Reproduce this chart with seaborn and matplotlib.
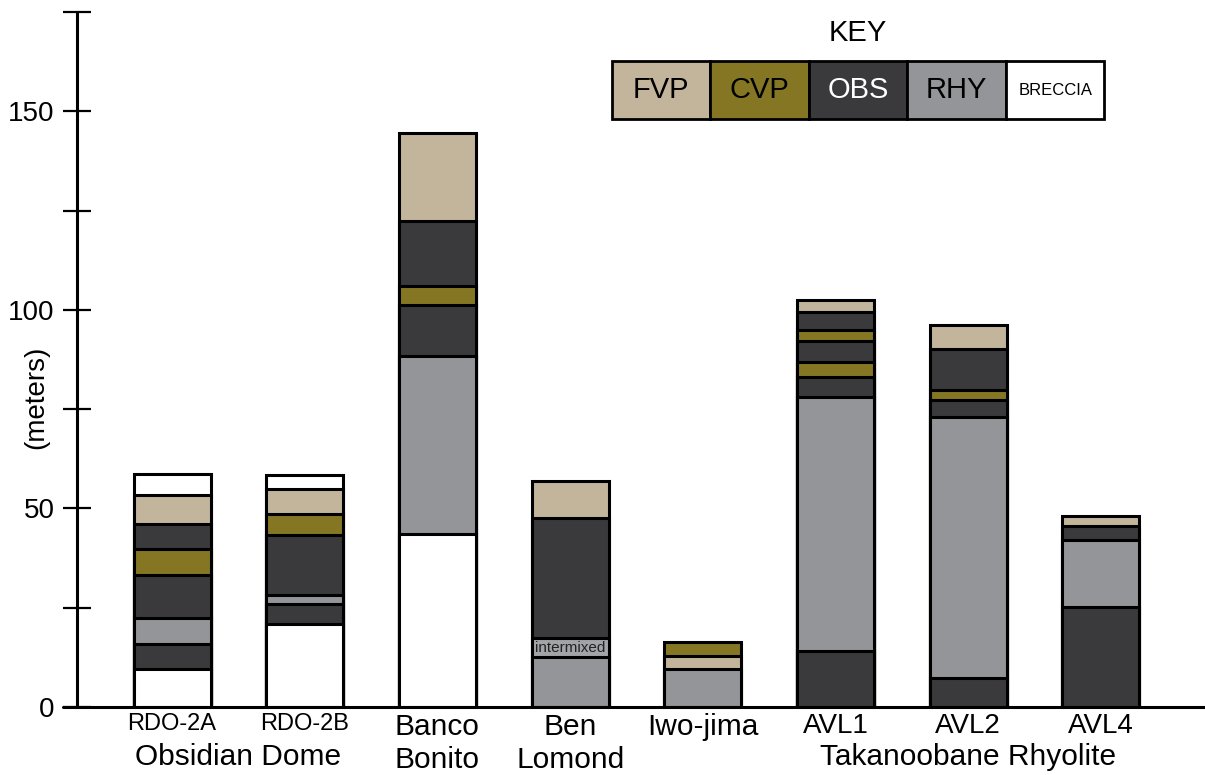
import pandas as pd
import matplotlib.pyplot as plt
import matplotlib.patches as mpatches
import seaborn as sns

# bars along the x axis (first line of the tick label)
categories = ["RDO-2A", "RDO-2B", "Banco\nBonito", "Ben\nLomond", "Iwo-jima", "AVL1", "AVL2", "AVL4"]

# units of each column, bottom to top, and their thickness in meters
rdo2a_units = ["BRECCIA", "OBS", "RHY", "OBS", "CVP", "OBS", "FVP", "BRECCIA"]
rdo2a_m = [9.5, 6.3, 6.7, 10.8, 6.4, 6.5, 7.2, 5.3]
rdo2b_units = ["BRECCIA", "OBS", "RHY", "OBS", "CVP", "FVP", "BRECCIA"]
rdo2b_m = [20.9, 5.0, 2.4, 14.9, 5.3, 6.3, 3.7]
banco_units = ["BRECCIA", "RHY", "OBS", "CVP", "OBS", "FVP"]
banco_m = [43.6, 44.7, 13.0, 4.6, 16.5, 22.2]
ben_units = ["RHY", "MIX", "OBS", "FVP"]
ben_m = [12.6, 4.7, 30.4, 9.3]
iwo_units = ["RHY", "FVP", "CVP"]
iwo_m = [9.5, 3.3, 3.6]
avl1_units = ["OBS", "RHY", "OBS", "CVP", "OBS", "CVP", "OBS", "FVP"]
avl1_m = [14.0, 64.1, 5.1, 3.8, 5.2, 2.7, 4.6, 3.0]
avl2_units = ["OBS", "RHY", "OBS", "CVP", "OBS", "FVP"]
avl2_m = [7.4, 65.7, 4.3, 2.4, 10.3, 6.2]
avl4_units = ["OBS", "RHY", "OBS", "FVP"]
avl4_m = [25.2, 16.9, 3.6, 2.3]

key_units = ["FVP", "CVP", "OBS", "RHY", "BRECCIA"]
unit_colors = {"FVP": "#c2b59b", "CVP": "#857623", "OBS": "#3a3a3c",
               "RHY": "#939598", "BRECCIA": "#ffffff", "MIX": "#a2a4a7"}

columns = [(rdo2a_units, rdo2a_m), (rdo2b_units, rdo2b_m), (banco_units, banco_m),
           (ben_units, ben_m), (iwo_units, iwo_m), (avl1_units, avl1_m),
           (avl2_units, avl2_m), (avl4_units, avl4_m)]

# long table: one row per layer, with the cumulative top of that layer
rows = []
for cat, (units, thick) in zip(categories, columns):
    top = 0
    for j, (u, t) in enumerate(zip(units, thick)):
        top += t
        rows.append([cat, j, u, top - t, top])
df = pd.DataFrame(rows, columns=["cat", "layer", "unit", "bottom", "top"])

sns.set_style("white")
plt.rcParams['font.family'] = ['Liberation Sans', 'DejaVu Sans']
plt.rcParams['text.color'] = 'black'
plt.rcParams['xtick.color'] = 'black'
plt.rcParams['ytick.color'] = 'black'
plt.rcParams['axes.labelcolor'] = 'black'
plt.rcParams['axes.edgecolor'] = 'black'

fig = plt.figure(figsize=(12.05, 7.75), dpi=100)
ax = fig.add_axes([0.0639, 0.0877, 0.9361, 0.8968])

# draw tallest layers first, lower layers painted over them
for j in sorted(df["layer"].unique(), reverse=True):
    sub = df[df["layer"] == j]
    pal = {c: unit_colors[u] for c, u in zip(sub["cat"], sub["unit"])}
    sns.barplot(data=sub, x="cat", y="top", hue="cat", order=categories,
                palette=pal, width=0.58, edgecolor="black", linewidth=2.2,
                saturation=1, legend=False, ax=ax)

# "intermixed" label on Ben Lomond
mix = df[df["unit"] == "MIX"].iloc[0]
ax.text(categories.index(mix["cat"]), (mix["bottom"] + mix["top"]) / 2, "intermixed",
        ha="center", va="center", fontsize=11, color="#222222")

ax.set_xlim(-0.716, 7.784)
ax.set_ylim(0, 175)
ax.set_yticks([0, 50, 100, 150])
ax.set_yticks([25, 75, 125, 175], minor=True)
ax.tick_params(axis="y", which="both", direction="inout", length=20, width=1.6,
               labelsize=20, pad=6, left=True)
ax.tick_params(axis="x", length=0, pad=4)
ax.set_xlabel("")
ax.set_ylabel("(meters)", fontsize=20)
ax.yaxis.set_label_coords(-0.025, 0.445)

sizes = [17, 17, 21.5, 21.5, 21.5, 20, 20, 20]
for lbl, s in zip(ax.get_xticklabels(), sizes):
    lbl.set_fontsize(s)
    lbl.set_linespacing(1.25)

for side in ["top", "right", "bottom"]:
    ax.spines[side].set_visible(False)
ax.spines["left"].set_linewidth(2.2)
ax.axhline(0, xmin=-14 / 1128, xmax=1, color="black", lw=2.2, clip_on=False, zorder=5)

# group names on the second line
ax.text(0.5, -0.052, "Obsidian Dome", transform=ax.get_xaxis_transform(),
        ha="center", va="top", fontsize=21.5)
ax.text(6, -0.052, "Takanoobane Rhyolite", transform=ax.get_xaxis_transform(),
        ha="center", va="top", fontsize=21.5)

# key box
kx0, kw, ky0, kh = 0.4743, 0.0873, 0.846, 0.0835
for i, u in enumerate(key_units):
    ax.add_patch(mpatches.Rectangle((kx0 + i * kw, ky0), kw, kh, transform=ax.transAxes,
                                    facecolor=unit_colors[u], edgecolor="black",
                                    linewidth=2, clip_on=False))
    ax.text(kx0 + (i + 0.5) * kw, ky0 + kh / 2, u, transform=ax.transAxes,
            ha="center", va="center", fontsize=12 if u == "BRECCIA" else 21,
            color="white" if u == "OBS" else "black")
ax.text(kx0 + 2.5 * kw, 0.970, "KEY", transform=ax.transAxes, ha="center",
        va="center", fontsize=21)

fig.savefig("out.png", dpi=100)
plt.close()
